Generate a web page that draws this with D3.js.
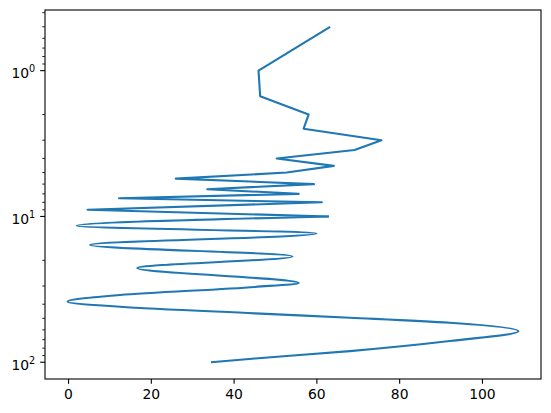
<!DOCTYPE html>
<html>
<head>
<meta charset="utf-8">
<script src="https://cdn.jsdelivr.net/npm/d3@7"></script>
<style>
  html, body { margin: 0; padding: 0; background: #ffffff; }
  svg { display: block; }
  text { font-family: "DejaVu Sans", sans-serif; fill: #000; }
</style>
</head>
<body>
<div id="chart"></div>
<script>
// ---- data ----
const xValues = [63.2, 45.9, 46.3, 58.0, 56.8, 75.6, 69.1, 50.3, 64.1, 52.7,
                 25.9, 59.3, 33.5, 55.6, 12.2, 61.2, 4.6, 62.9, 2.0, 59.9,
                 5.2, 54.1, 16.6, 55.6, 45.05, 12.48, -0.24, 12.48, 45.05, 67.98,
                 92.1, 108.7, 92.1, 67.98, 45.05, 34.4];
const yValues = [0.5, 1.0, 1.5, 2.0, 2.5, 3.0, 3.5, 4.0, 4.5, 5.0,
                 5.5, 6.0, 6.5, 7.0, 7.5, 8.0, 9.0, 10, 11.6, 13.1,
                 15.7, 18.8, 22.6, 28.6, 30.45, 34.56, 38.4, 41.6, 46.2, 49.5,
                 53.6, 61.4, 71.6, 83.9, 94.2, 100];
const xTicks = [0, 20, 40, 60, 80, 100];
const yMajorTicks = [1, 10, 100];
const yTickExponents = ["0", "1", "2"];

const W = 551, H = 413;
const margin = {left: 45, right: 10, top: 10, bottom: 34};

const svg = d3.select("#chart").append("svg")
  .attr("width", W).attr("height", H);

const points = xValues.map((x, i) => ({x: x, y: yValues[i]}));

// x scale with 5% margins (matplotlib default)
const xExt = d3.extent(xValues);
const xPad = (xExt[1] - xExt[0]) * 0.05;
const x = d3.scaleLinear()
  .domain([xExt[0] - xPad, xExt[1] + xPad])
  .range([margin.left, W - margin.right]);

// log y scale, inverted (small values at top)
const lyExt = d3.extent(yValues).map(Math.log10);
const lyPad = (lyExt[1] - lyExt[0]) * 0.05;
const y = d3.scaleLog()
  .domain([Math.pow(10, lyExt[0] - lyPad), Math.pow(10, lyExt[1] + lyPad)])
  .range([margin.top, H - margin.bottom]);

const tickColor = "#000";
const majorLen = 4.86, minorLen = 2.78;

// line: straight segments for the sparse upper levels, smooth for the dense lower part
const splitAt = 17;
const lineLin = d3.line().x(d => x(d.x)).y(d => y(d.y)).curve(d3.curveLinear);
const lineSmooth = d3.line().x(d => x(d.x)).y(d => y(d.y)).curve(d3.curveMonotoneY);

const gPlot = svg.append("g");
gPlot.append("path")
  .attr("d", lineLin(points.slice(0, splitAt + 1)))
  .attr("fill", "none").attr("stroke", "#1f77b4")
  .attr("stroke-width", 2.08).attr("stroke-linejoin", "round").attr("stroke-linecap", "butt");
gPlot.append("path")
  .attr("d", lineSmooth(points.slice(splitAt)))
  .attr("fill", "none").attr("stroke", "#1f77b4")
  .attr("stroke-width", 2.08).attr("stroke-linejoin", "round").attr("stroke-linecap", "butt");

// spines
const x0 = margin.left, x1 = W - margin.right, y0 = margin.top, y1 = H - margin.bottom;
svg.append("rect")
  .attr("x", x0).attr("y", y0).attr("width", x1 - x0).attr("height", y1 - y0)
  .attr("fill", "none").attr("stroke", "#000").attr("stroke-width", 1.1);

// x ticks
const gx = svg.append("g");
xTicks.forEach(t => {
  const px = x(t);
  gx.append("line").attr("x1", px).attr("x2", px).attr("y1", y1).attr("y2", y1 + majorLen)
    .attr("stroke", tickColor).attr("stroke-width", 1.1);
  gx.append("text").attr("x", px).attr("y", y1 + majorLen + 4.86 + 10.3)
    .attr("text-anchor", "middle").attr("font-size", "13.9px").text(t);
});

// y major ticks with 10^n labels
const gy = svg.append("g");
yMajorTicks.forEach((t, i) => {
  const py = y(t);
  gy.append("line").attr("x1", x0 - majorLen).attr("x2", x0).attr("y1", py).attr("y2", py)
    .attr("stroke", tickColor).attr("stroke-width", 1.1);
  const txt = gy.append("text").attr("x", x0 - majorLen - 4.86).attr("y", py + 7.6)
    .attr("text-anchor", "end").attr("font-size", "13.9px");
  txt.append("tspan").text("10");
  txt.append("tspan").attr("dy", -6.2).attr("font-size", "9.7px").text(yTickExponents[i]);
});

// y minor ticks
const [dmin, dmax] = y.domain();
const minorTicks = [];
for (let e = Math.floor(Math.log10(dmin)); e <= Math.ceil(Math.log10(dmax)); e++) {
  for (let m = 2; m <= 9; m++) {
    const v = m * Math.pow(10, e);
    if (v >= dmin && v <= dmax) minorTicks.push(v);
  }
}
minorTicks.forEach(t => {
  const py = y(t);
  gy.append("line").attr("x1", x0 - minorLen).attr("x2", x0).attr("y1", py).attr("y2", py)
    .attr("stroke", tickColor).attr("stroke-width", 0.83);
});
</script>
</body>
</html>
